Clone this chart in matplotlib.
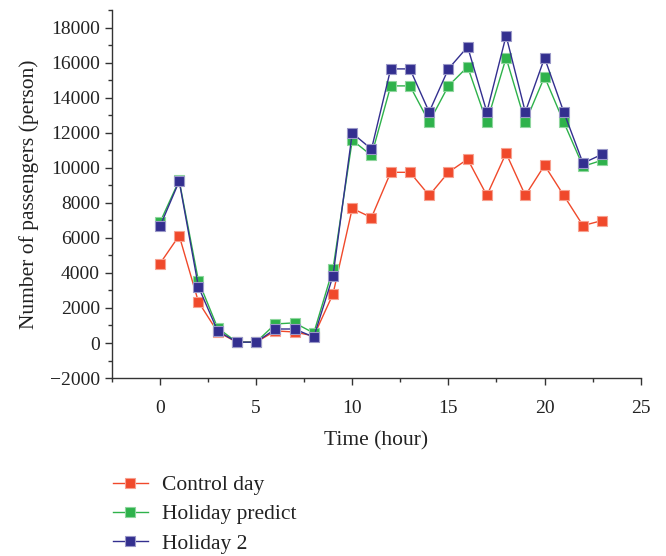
import matplotlib.pyplot as plt
from matplotlib.ticker import MultipleLocator

plt.rcParams['font.family'] = ['Liberation Serif', 'DejaVu Serif']

hours = list(range(24))
control_day = [4530, 6130, 2350, 630, 50, 50, 690, 630, 400, 2800, 7680, 7160,
               9740, 9740, 8420, 9740, 10490, 8420, 10830, 8420, 10140, 8420, 6700, 6990]
holiday_predict = [6880, 9280, 3550, 860, 50, 50, 1090, 1150, 570, 4240, 11575, 10700,
                   14670, 14670, 12600, 14670, 15760, 12600, 16270, 12600, 15190, 12600, 10080, 10430]
holiday_2 = [6650, 9230, 3210, 690, 50, 50, 800, 800, 340, 3840, 11980, 11060,
             15640, 15640, 13180, 15640, 16900, 13180, 17530, 13180, 16270, 13180, 10260, 10770]

series = [
    ("Control day", control_day, "#f0492b", "#f7a08f"),
    ("Holiday predict", holiday_predict, "#2eb24b", "#8fd69e"),
    ("Holiday 2", holiday_2, "#332f8f", "#9a98c8"),
]

fig = plt.figure(figsize=(6.66, 5.56), dpi=100)
ax = fig.add_axes([0.168, 0.32, 0.794, 0.662])

for name, vals, col, edge in series:
    ax.plot(hours, vals, color=col, lw=1.0, marker='s', markersize=7,
            markerfacecolor=col, markeredgecolor=edge, markeredgewidth=0.8,
            label=name)

ax.set_xlim(-2.5, 25)
ax.set_ylim(-2000, 19000)
ax.xaxis.set_major_locator(MultipleLocator(5))
ax.xaxis.set_minor_locator(MultipleLocator(2.5))
ax.yaxis.set_major_locator(MultipleLocator(2000))
ax.yaxis.set_minor_locator(MultipleLocator(1000))
ax.spines['top'].set_visible(False)
ax.spines['right'].set_visible(False)
for s in ('left', 'bottom'):
    ax.spines[s].set_color('#333333')
    ax.spines[s].set_linewidth(1.0)
ax.tick_params(which='major', direction='out', length=5, width=1, labelsize=14,
               colors='#333333', labelcolor='#222222')
ax.tick_params(which='minor', direction='out', length=3, width=1, colors='#333333')
ax.tick_params(axis='x', pad=11)

ax.set_xlabel("Time (hour)", fontsize=15.5, color='#222222', labelpad=10)
ax.set_ylabel("Number of passengers (person)", fontsize=15.5, color='#222222', labelpad=8)

fig.legend(loc='upper left', bbox_to_anchor=(0.14, 0.18), frameon=False,
           fontsize=15.5, handlelength=1.63, handletextpad=0.65, labelspacing=0.42,
           labelcolor='#222222')

fig.savefig("out.png", dpi=100)
